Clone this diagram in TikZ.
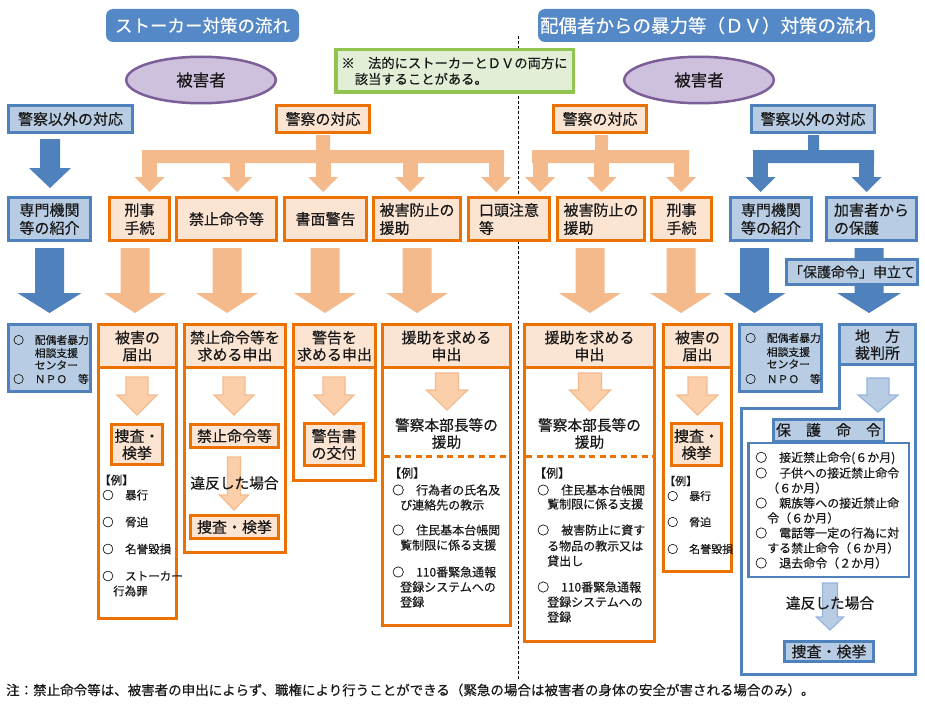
\documentclass[tikz,border=0pt]{standalone}
\usepackage{fontspec}
\setmainfont{Noto Sans CJK JP}[FakeBold=0.35]
\usetikzlibrary{shapes.geometric}
\definecolor{blueB}{RGB}{79,129,189}
\definecolor{blueT}{RGB}{84,136,198}
\definecolor{blueL}{RGB}{184,204,228}
\definecolor{blueA}{RGB}{150,180,222}
\definecolor{orB}{RGB}{237,113,0}
\definecolor{orL}{RGB}{252,228,210}
\definecolor{peach}{RGB}{245,186,140}
\definecolor{peachL}{RGB}{250,207,170}
\definecolor{lav}{RGB}{206,193,222}
\definecolor{purp}{RGB}{124,94,152}
\definecolor{grB}{RGB}{146,196,80}
\definecolor{grL}{RGB}{226,239,214}
\definecolor{txt}{RGB}{25,25,25}
\newcommand\darrow[7]{\path[#7] ({#1-#5/2},#2) -- ({#1+#5/2},#2) -- ({#1+#5/2},#3) -- ({#1+#6/2},#3) -- (#1,#4) -- ({#1-#6/2},#3) -- ({#1-#5/2},#3) -- cycle;}
\begin{document}
\begin{tikzpicture}[x=1pt,y=-1pt,
  every node/.style={text=txt, inner sep=0pt},
  ob/.style={draw=orB, line width=3pt, fill=orL, align=center, font=\fontsize{15}{17}\selectfont},
  bb/.style={draw=blueB, line width=3pt, fill=blueL, align=center, font=\fontsize{15}{17}\selectfont},
  ttl/.style={fill=blueT, rounded corners=7pt, text=white},
  li/.style={anchor=west, font=\fontsize{12}{14}\selectfont},
  lis/.style={anchor=west, font=\fontsize{11.5}{14}\selectfont},
  lif/.style={anchor=west, font=\fontsize{11}{13}\selectfont},
  lit/.style={anchor=west, font=\fontsize{10.8}{13}\selectfont},
  big/.style={font=\fontsize{14.7}{17}\selectfont, align=center},
  oarr/.style={fill=peach},
  iarr/.style={fill=peachL, draw=peach, line width=1.2pt},
  barr/.style={fill=blueB},
  ibarr/.style={fill=blueL, draw=blueA, line width=1.2pt}]
\fill[white] (0,0) rectangle (925,706);
\useasboundingbox (0,0) rectangle (925,706);

% titles
\node[ttl, minimum width=193, minimum height=33, font=\fontsize{17.5}{20}\selectfont] (t1) at (202.5,25.5) {ストーカー対策の流れ};
\node[ttl, minimum width=337, minimum height=33, font=\fontsize{18.5}{20}\selectfont] (t2) at (706.5,25.5) {配偶者からの暴力等（ＤＶ）対策の流れ};

% separator
\coordinate (sepT) at (518,36);
\coordinate (sepB) at (518,680);
\draw[black, line width=0.8pt, dash pattern=on 3pt off 2pt] (sepT) -- (sepB);

% victims
\node[ellipse, draw=purp, line width=2.5pt, fill=lav, minimum width=149.5, minimum height=46.5, font=\fontsize{16.5}{18}\selectfont] (v1) at (201,80) {被害者};
\node[ellipse, draw=purp, line width=2.5pt, fill=lav, minimum width=149.5, minimum height=46.5, font=\fontsize{16.5}{18}\selectfont] (v2) at (699,80) {被害者};

% green note
\node[draw=grB, line width=3.5pt, fill=grL, minimum width=237.5, minimum height=42.5, align=left, font=\fontsize{13.3}{16}\selectfont] (gn) at (454.5,71) {※　法的にストーカーとＤＶの両方に\\　該当することがある。};

% row 1
\node[bb, minimum width=124, minimum height=27] (n1) at (70.5,119) {警察以外の対応};
\node[ob, minimum width=93, minimum height=27] (p1) at (323,119) {警察の対応};
\node[ob, minimum width=93, minimum height=27] (p2) at (600,119) {警察の対応};
\node[bb, minimum width=123, minimum height=27] (n2) at (813,119) {警察以外の対応};

% branch arrows
\darrow{50}{139}{168}{188}{20}{42}{barr}
\fill[peach] (316,135) rectangle (330,163) (142,150) rectangle (504,163);
\foreach \c in {149.5,237,323,410,496} {
  \fill[peach] (\c-7.5,150) rectangle (\c+7.5,177);
  \fill[peach] (\c-15,177) -- (\c+15,177) -- (\c,192) -- cycle;}
\fill[peach] (595,135) rectangle (608,163) (532,150) rectangle (689,163);
\foreach \c in {540,601.5,681} {
  \fill[peach] (\c-7.5,150) rectangle (\c+7.5,177);
  \fill[peach] (\c-15,177) -- (\c+15,177) -- (\c,192) -- cycle;}
\fill[blueB] (808,135) rectangle (819,163) (753,150) rectangle (874,163);
\foreach \c in {760.5,866.5} {
  \fill[blueB] (\c-7.5,150) rectangle (\c+7.5,177);
  \fill[blueB] (\c-15,177) -- (\c+15,177) -- (\c,192) -- cycle;}

% row 2
\node[bb, minimum width=82, minimum height=43, font=\fontsize{15}{18}\selectfont] (s1) at (49.5,219) {専門機関\\等の紹介};
\node[ob, minimum width=60, minimum height=43, font=\fontsize{15}{18}\selectfont] (k1) at (139.5,219) {刑事\\手続};
\node[ob, minimum width=100, minimum height=43] (k2) at (226.5,219) {禁止命令等};
\node[ob, minimum width=82, minimum height=43] (k3) at (325.5,219) {書面警告};
\node[ob, minimum width=87, minimum height=43, align=left, font=\fontsize{15}{18}\selectfont] (k4) at (417,219) {被害防止の\\援助};
\node[ob, minimum width=81, minimum height=43, align=left, font=\fontsize{15}{18}\selectfont] (k5) at (509,219) {口頭注意\\等};
\node[ob, minimum width=87, minimum height=43, align=left, font=\fontsize{15}{18}\selectfont] (k6) at (601,219) {被害防止の\\援助};
\node[ob, minimum width=60, minimum height=43, font=\fontsize{15}{18}\selectfont] (k7) at (681.5,219) {刑事\\手続};
\node[bb, minimum width=81, minimum height=43, font=\fontsize{15}{18}\selectfont] (s2) at (771,219) {専門機関\\等の紹介};
\node[bb, minimum width=90, minimum height=43, align=left, font=\fontsize{15}{18}\selectfont] (s3) at (871.5,219) {加害者から\\の保護};

% row 3 arrows
\darrow{49.5}{248}{293}{313}{29}{64}{barr}
\foreach \c in {135,227,325,417,590,681} {\darrow{\c}{248}{293}{313}{29}{62}{oarr}}
\darrow{754.5}{248}{293}{313}{29}{62}{barr}
\darrow{869}{248}{293}{313}{29}{64}{barr}
\node[bb, minimum width=131, minimum height=25, font=\fontsize{14}{16}\selectfont] (hm) at (852,272) {「保護命令」申立て};

% NPO boxes
\node[bb, minimum width=82, minimum height=67] (npoL) at (49.5,358) {};
\node[lit] (nl1) at (13,340) {○　配偶者暴力};
\node[lit] (nl2) at (13,353) {　　相談支援};
\node[lit] (nl3) at (13,365) {　　センター};
\node[lit] (nl4) at (13,379) {○　ＮＰＯ　等};
\node[bb, minimum width=82, minimum height=67] (npoR) at (780.5,358) {};
\node[lit] (nr1) at (745,338) {○　配偶者暴力};
\node[lit] (nr2) at (745,352) {　　相談支援};
\node[lit] (nr3) at (745,364) {　　センター};
\node[lit] (nr4) at (745,379) {○　ＮＰＯ　等};

% column A
\draw[orB, line width=3pt] (98.5,368) -- (98.5,618.5) -- (176.5,618.5) -- (176.5,368);
\node[ob, minimum width=78, minimum height=43] (hA) at (137.5,346) {被害の\\届出};
\darrow{137}{377}{395}{415}{22}{40}{iarr}
\node[ob, minimum width=51, minimum height=40] (sA) at (137,444.5) {捜査・\\検挙};
\node[lis] (aE) at (99,480) {【例】};
\node[lis] (a1) at (102,495) {○　暴行};
\node[lis] (a2) at (102,522) {○　脅迫};
\node[lis] (a3) at (102,549) {○　名誉毀損};
\node[lis] (a4) at (102,576) {○　ストーカー};
\node[lis] (a5) at (113,591) {行為罪};

% column B
\draw[orB, line width=3pt] (184.5,368) -- (184.5,552.5) -- (285.5,552.5) -- (285.5,368);
\node[ob, minimum width=101, minimum height=43] (hB) at (235,346) {禁止命令等を\\求める申出};
\darrow{234}{377}{395}{415}{22}{40}{iarr}
\node[ob, minimum width=88, minimum height=23] (kB) at (234.5,436) {禁止命令等};
\darrow{234}{457}{495}{510}{13}{29}{iarr}
\node[big] (vB) at (234.5,483) {違反した場合};
\node[ob, minimum width=88, minimum height=23] (sB) at (234.5,527) {捜査・検挙};

% column C
\draw[orB, line width=3pt] (293.5,368) -- (293.5,480.5) -- (375.5,480.5) -- (375.5,368);
\node[ob, minimum width=82, minimum height=43] (hC) at (334.5,346) {警告を\\求める申出};
\darrow{334}{377}{395}{415}{22}{40}{iarr}
\node[ob, minimum width=59, minimum height=42] (wC) at (334,444.5) {警告書\\の交付};

% column D
\draw[orB, line width=3pt] (382.5,368) -- (382.5,625.5) -- (510.5,625.5) -- (510.5,368);
\node[ob, minimum width=128, minimum height=43] (hD) at (446.5,346) {援助を求める\\申出};
\darrow{447}{373}{390}{410}{23}{41}{iarr}
\node[big] (eD) at (446.5,433.5) {警察本部長等の\\援助};
\coordinate (dL) at (384,456);
\coordinate (dR) at (509,456);
\draw[orB, line width=3pt, dash pattern=on 6pt off 4.5pt] (dL) -- (dR);
\node[li] (dE) at (389,473) {【例】};
\node[li] (d1) at (392,490) {○　行為者の氏名及};
\node[li] (d2) at (400,505) {び連絡先の教示};
\node[li] (d3) at (392,530) {○　住民基本台帳閲};
\node[li] (d4) at (400,545) {覧制限に係る支援};
\node[li] (d5) at (392,572) {○　110番緊急通報};
\node[li] (d6) at (400,587) {登録システムへの};
\node[li] (d7) at (400,602) {登録};

% column E
\draw[orB, line width=3pt] (524.5,368) -- (524.5,641.5) -- (654.5,641.5) -- (654.5,368);
\node[ob, minimum width=130, minimum height=43] (hE) at (589.5,346) {援助を求める\\申出};
\darrow{590}{373}{390}{411}{23}{41}{iarr}
\node[big] (eE) at (589.5,433.5) {警察本部長等の\\援助};
\coordinate (eL) at (526,456);
\coordinate (eR) at (653,456);
\draw[orB, line width=3pt, dash pattern=on 6pt off 4.5pt] (eL) -- (eR);
\node[li] (eEx) at (534,473) {【例】};
\node[li] (e1) at (537,490) {○　住民基本台帳閲};
\node[li] (e2) at (547,504) {覧制限に係る支援};
\node[li] (e3) at (537,530) {○　被害防止に資す};
\node[li] (e4) at (547,546) {る物品の教示又は};
\node[li] (e5) at (547,561) {貸出し};
\node[li] (e6) at (537,587) {○　110番緊急通報};
\node[li] (e7) at (547,602) {登録システムへの};
\node[li] (e8) at (547,617) {登録};

% column F
\draw[orB, line width=3pt] (663.5,368) -- (663.5,571.5) -- (731.5,571.5) -- (731.5,368);
\node[ob, minimum width=68, minimum height=43] (hF) at (697.5,346) {被害の\\届出};
\darrow{697.5}{377}{395}{415}{19}{41}{iarr}
\node[ob, minimum width=50, minimum height=42] (sF) at (696.5,444.5) {捜査・\\検挙};
\node[lif] (fE) at (664,481) {【例】};
\node[lif] (f1) at (667,496) {○　暴行};
\node[lif] (f2) at (667,522) {○　脅迫};
\node[lif] (f3) at (667,549) {○　名誉毀損};

% column G (court)
\draw[blueB, line width=3pt] (839.5,365) -- (839.5,408.5) -- (741.5,408.5) -- (741.5,674.5) -- (915.5,674.5) -- (915.5,365);
\node[bb, minimum width=76, minimum height=40] (hG) at (877.5,344.5) {地　方\\裁判所};
\darrow{878}{378}{395}{412}{22}{40}{ibarr}
\draw[blueB, line width=2.5pt, fill=white] (748.25,443) rectangle (908.75,576.75);
\node[bb, line width=2.5pt, minimum width=110.5, minimum height=21.5] (pG) at (828.5,430) {保　護　命　令};
\node[li] (g1) at (755,458) {○　接近禁止命令(６か月)};
\node[li] (g2) at (755,473) {○　子供への接近禁止命令};
\node[li] (g3) at (755,488) {　（６か月）};
\node[li] (g4) at (755,503) {○　親族等への接近禁止命};
\node[li] (g5) at (755,518) {　令（６か月）};
\node[li] (g6) at (755,533) {○　電話等一定の行為に対};
\node[li] (g7) at (755,548) {　する禁止命令（６か月）};
\node[li] (g8) at (755,563) {○　退去命令（２か月）};
\darrow{830}{583}{617}{630}{15}{27}{ibarr}
\node[big] (vG) at (830,603) {違反した場合};
\node[bb, minimum width=89, minimum height=20] (sG) at (829,651.5) {捜査・検挙};

% footnote
\node[anchor=west, font=\fontsize{13.5}{15}\selectfont] (note) at (6,690) {注：禁止命令等は、被害者の申出によらず、職権により行うことができる（緊急の場合は被害者の身体の安全が害される場合のみ）。};
\end{tikzpicture}
\end{document}
